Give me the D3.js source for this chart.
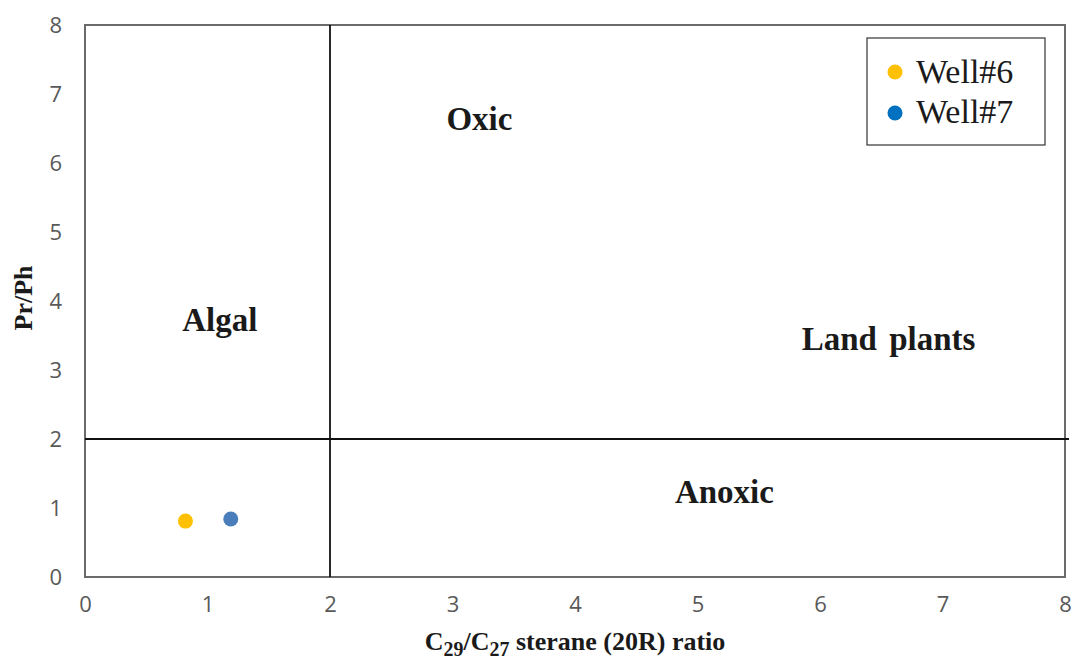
<!DOCTYPE html>
<html lang="en">
<head>
  <meta charset="UTF-8">
  <title>Pr/Ph vs C29/C27 sterane</title>
  <script src="https://d3js.org/d3.v7.min.js"></script>
  <style>
    body { margin: 0; background: #fff; }
    .tick text { font-family: "Open Sans", "DejaVu Sans", sans-serif; fill: #595959; font-size: 22px; }
    .region { font-family: "Liberation Serif", serif; font-weight: bold; font-size: 33px; fill: #1a1a1a; }
    .title { font-family: "Liberation Serif", serif; font-weight: bold; font-size: 26px; fill: #1a1a1a; }
    .legend text { font-family: "Liberation Serif", serif; font-size: 34px; fill: #1a1a1a; }
  </style>
</head>
<body>
  <svg id="chart" width="1072" height="662"></svg>
  <script>
    // data
    const wells = ["Well#6", "Well#7"];
    const colors = ["#ffc000", "#4a7ebb"];
    const legendColors = ["#ffc000", "#0070c0"];
    const sterane = [0.82, 1.19];
    const prph = [0.81, 0.84];
    const xTicks = [0, 1, 2, 3, 4, 5, 6, 7, 8];
    const yTicks = [0, 1, 2, 3, 4, 5, 6, 7, 8];
    const regions = [
      { name: "Oxic", x: 3.22, y: 6.48 },
      { name: "Algal", x: 1.10, y: 3.57 },
      { name: "Land plants", x: 6.56, y: 3.29 },
      { name: "Anoxic", x: 5.22, y: 1.07 }
    ];
    const dividerX = 2;
    const dividerY = 2;

    const svg = d3.select("#chart");
    const x = d3.scaleLinear().domain([0, 8]).range([85, 1065]);
    const y = d3.scaleLinear().domain([0, 8]).range([577, 25]);

    // axes (tick labels only)
    svg.append("g")
      .attr("transform", "translate(0,577)")
      .call(d3.axisBottom(x).tickValues(xTicks).tickSize(0).tickPadding(19))
      .call(g => g.select(".domain").remove());

    svg.append("g")
      .attr("transform", "translate(85,0)")
      .call(d3.axisLeft(y).tickValues(yTicks).tickSize(0).tickPadding(23))
      .call(g => g.select(".domain").remove());

    // frame
    svg.append("rect")
      .attr("x", x(0)).attr("y", y(8))
      .attr("width", x(8) - x(0)).attr("height", y(0) - y(8))
      .attr("fill", "none").attr("stroke", "#6a6a6a").attr("stroke-width", 2);

    // dividers
    svg.append("line")
      .attr("x1", x(dividerX)).attr("x2", x(dividerX))
      .attr("y1", y(0)).attr("y2", y(8))
      .attr("stroke", "#111").attr("stroke-width", 1.8);
    svg.append("line")
      .attr("x1", x(0)).attr("x2", x(8) + 4)
      .attr("y1", y(dividerY)).attr("y2", y(dividerY))
      .attr("stroke", "#111").attr("stroke-width", 1.8);

    // region labels
    svg.selectAll("text.region")
      .data(regions)
      .enter().append("text")
      .attr("class", "region")
      .attr("x", d => x(d.x))
      .attr("y", d => y(d.y))
      .attr("text-anchor", "middle")
      .attr("word-spacing", 4)
      .text(d => d.name);

    // points
    svg.selectAll("circle.pt")
      .data(wells)
      .enter().append("circle")
      .attr("class", "pt")
      .attr("cx", (d, i) => x(sterane[i]))
      .attr("cy", (d, i) => y(prph[i]))
      .attr("r", 7.5)
      .attr("fill", (d, i) => colors[i]);

    // axis titles
    svg.append("text")
      .attr("class", "title")
      .attr("transform", "translate(32,298) rotate(-90)")
      .attr("text-anchor", "middle")
      .text("Pr/Ph");

    const xt = svg.append("text")
      .attr("class", "title")
      .attr("x", 575).attr("y", 650)
      .attr("font-size", 28)
      .attr("text-anchor", "middle");
    xt.append("tspan").text("C");
    xt.append("tspan").attr("dy", 6).attr("font-size", 20).text("29");
    xt.append("tspan").attr("dy", -6).text("/C");
    xt.append("tspan").attr("dy", 6).attr("font-size", 20).text("27");
    xt.append("tspan").attr("dy", -6).text(" sterane (20R) ratio");

    // legend
    const lg = svg.append("g").attr("class", "legend");
    lg.append("rect")
      .attr("x", 867).attr("y", 38).attr("width", 178).attr("height", 107)
      .attr("fill", "#fff").attr("stroke", "#333").attr("stroke-width", 1.2);
    wells.forEach((w, i) => {
      lg.append("circle")
        .attr("cx", 895).attr("cy", 72 + i * 41)
        .attr("r", 7.5).attr("fill", legendColors[i]);
      lg.append("text")
        .attr("x", 916).attr("y", 83 + i * 40)
        .text(w);
    });
  </script>
</body>
</html>
